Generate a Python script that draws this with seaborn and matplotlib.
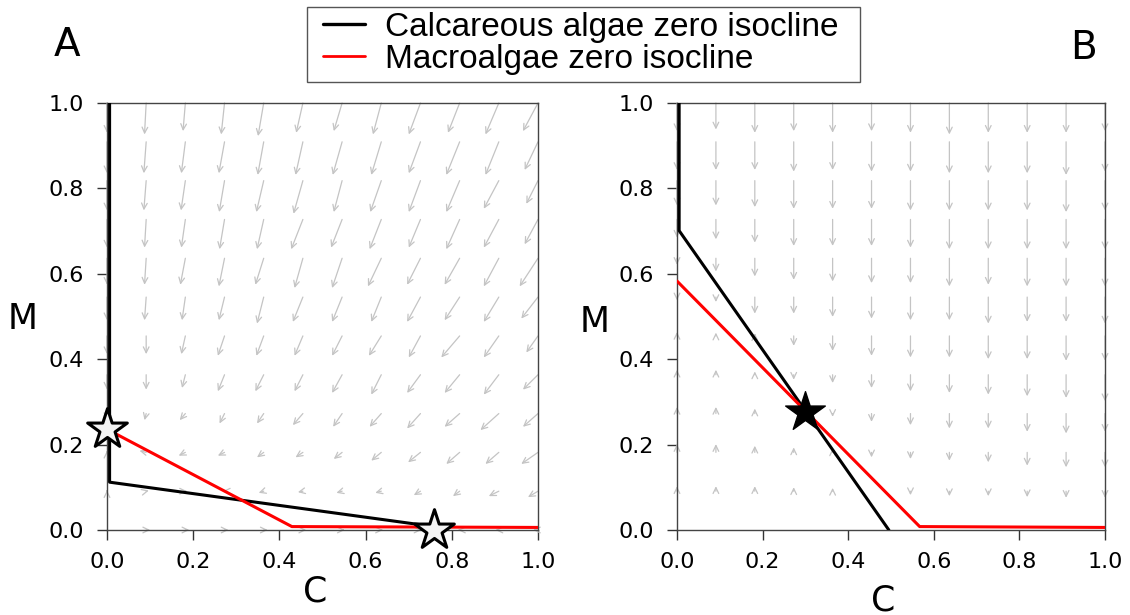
import numpy as np
import pandas as pd
import matplotlib
matplotlib.use("Agg")
import matplotlib.pyplot as plt
import seaborn as sns
from matplotlib.lines import Line2D
from matplotlib.patches import Rectangle

# ---------------- data ----------------
# grid of the direction field (C on x, M on y)
GRID_C = [0.0, 0.0909, 0.1818, 0.2727, 0.3636, 0.4545, 0.5455, 0.6364, 0.7273, 0.8182, 0.9091, 1.0]
GRID_M = [1.0, 0.9091, 0.8182, 0.7273, 0.6364, 0.5455, 0.4545, 0.3636, 0.2727, 0.1818, 0.0909, 0.0]  # rows, top to bottom
ARROW_UNIT = 1290.0  # arrow components below are read in 1/1290 of an axis unit

# Panel A arrows (dC, dM), rows from M=1 to M=0
A_U = [
    [0, -5, -7, -10, -17, -20, -25, -25, -35, -35, -40, -45],
    [0, -7, -12, -17, -18, -22, -28, -30, -35, -40, -40, -40],
    [0, -7, -13, -16, -22, -28, -25, -33, -35, -40, -45, -35],
    [0, -5, -12, -15, -20, -35, -33, -35, -35, -40, -45, -40],
    [0, -5, -15, -17, -25, -25, -30, -40, -40, -45, -45, -55],
    [0, -5, -10, -17, -20, -30, -30, -30, -40, -45, -45, -50],
    [0, 0, -12, -20, -22, -25, -30, -37, -35, -55, -45, -35],
    [0, 0, -10, -20, -25, -25, -30, -30, -40, -45, -45, -45],
    [0, -5, -17, -15, -20, -30, -27, -35, -40, -45, -55, -45],
    [0, -20, -20, -20, -20, -22, -25, -30, -37, -40, -40, -50],
    [0, 8, 5, -5, -15, -15, -17, -18, -20, -20, -30, -30],
    [0, 12, 12, 12, 12, 10, 8, 5, 3, -5, -10, -15],
]
A_V = [
    [-90, -95, -85, -95, -100, -90, -85, -95, -95, -90, -95, -85],
    [-95, -95, -95, -95, -100, -100, -100, -100, -95, -100, -100, -85],
    [-90, -90, -90, -95, -95, -100, -95, -95, -95, -95, -85, -70],
    [-85, -85, -85, -90, -90, -90, -85, -90, -85, -90, -85, -75],
    [-80, -80, -80, -85, -80, -90, -90, -85, -80, -80, -85, -85],
    [-70, -70, -70, -70, -80, -75, -75, -75, -75, -70, -75, -65],
    [-55, -55, -55, -60, -60, -60, -60, -60, -65, -65, -65, -50],
    [-45, -45, -40, -50, -50, -50, -55, -60, -55, -55, -60, -45],
    [-20, -20, -20, -30, -30, -35, -40, -40, -45, -40, -50, -40],
    [5, 5, -10, -10, -15, -15, -20, -25, -30, -35, -35, -35],
    [3, 2, 0, 0, -5, -3, -5, -5, -12, -15, -15, -18],
    [0, 0, 0, 0, 0, 0, 0, 0, 0, 0, 0, 0],
]
# Panel B arrows (dC, dM)
B_U = [
    [0, 0, 0, 0, 0, 0, 0, 0, 0, 0, 0, 0],
    [0, 0, 0, 0, 0, 0, 0, 0, 0, 0, 0, 0],
    [0, 0, 0, 0, 0, 0, 0, 0, 0, 0, 0, 0],
    [0, 0, 0, 0, 0, 0, 0, 0, 0, 0, 0, 0],
    [0, 0, 0, 0, 0, 0, 0, 0, 0, 0, 0, 0],
    [0, 0, 0, 0, 0, 0, 0, 0, 0, 0, 0, 0],
    [0, 0, 0, 0, 0, 0, 0, 0, 0, 0, 0, 0],
    [0, 0, 0, 0, 0, 0, 0, 0, 0, 0, 0, 0],
    [0, 0, 0, 0, 0, 0, 0, 0, 0, 0, 0, 0],
    [0, 0, 0, 0, 0, 0, 0, 0, 0, 0, 0, 0],
    [0, 0, 0, 0, 0, 0, 0, 0, 0, 0, 0, 0],
    [0, 0, 0, 0, 0, 0, 0, 0, 0, 0, 0, 0],
]
B_V = [
    [-85, -80, -90, -85, -90, -85, -90, -95, -90, -90, -90, -85],
    [-85, -85, -85, -90, -85, -90, -90, -95, -95, -95, -100, -90],
    [-75, -75, -80, -85, -85, -85, -90, -90, -90, -90, -95, -90],
    [-55, -60, -70, -80, -80, -80, -85, -90, -90, -90, -90, -90],
    [-20, -40, -55, -65, -70, -75, -75, -85, -80, -85, -85, -85],
    [-10, -15, -50, -50, -60, -65, -70, -70, -80, -75, -75, -80],
    [12, 10, 8, -30, -45, -60, -65, -65, -70, -70, -75, -75],
    [15, 15, 10, -15, -25, -40, -50, -55, -60, -65, -70, -80],
    [20, 20, 15, 0, -10, -25, -35, -45, -45, -55, -60, -55],
    [25, 25, 20, 15, 12, -15, -20, -25, -30, -40, -45, -45],
    [15, 15, 15, 12, 10, 0, -12, -15, -15, -18, -20, -20],
    [0, 0, 0, 0, 0, 0, 0, 0, 0, 0, 0, 0],
]

# isoclines (C, M)
A_CALC_C = [0.006, 0.006, 0.759]
A_CALC_M = [1.0, 0.112, 0.008]
A_MACRO_C = [0.0, 0.429, 1.0]
A_MACRO_M = [0.236, 0.008, 0.006]
B_CALC_C = [0.005, 0.005, 0.495]
B_CALC_M = [1.0, 0.701, 0.0]
B_MACRO_C = [0.0, 0.567, 1.0]
B_MACRO_M = [0.583, 0.008, 0.006]

# equilibria
A_EQ_C = [0.0, 0.759]
A_EQ_M = [0.236, 0.0]
B_EQ_C = [0.298]
B_EQ_M = [0.277]

TICKS = [0.0, 0.2, 0.4, 0.6, 0.8, 1.0]
TICK_LABELS = ["0.0", "0.2", "0.4", "0.6", "0.8", "1.0"]
LEGEND_LABELS = ["Calcareous algae zero isocline", "Macroalgae zero isocline"]
PANEL_LABELS = ["A", "B"]

# ---------------- style ----------------
sns.set_theme(style="ticks")
plt.rcParams["font.family"] = ["DejaVu Sans"]
plt.rcParams["text.color"] = "black"
plt.rcParams["axes.labelcolor"] = "black"
plt.rcParams["xtick.labelcolor"] = "black"
plt.rcParams["ytick.labelcolor"] = "black"

W, H = 1130, 615
fig = plt.figure(figsize=(W / 100, H / 100), dpi=100)
axA = fig.add_axes([107 / W, 1 - 530 / H, 431 / W, 427 / H])
axB = fig.add_axes([677 / W, 1 - 530 / H, 428 / W, 427 / H])

ARROW_COLOR = "#c4c4c4"


def draw_field(ax, U, V):
    for i, m in enumerate(GRID_M):
        for j, c in enumerate(GRID_C):
            u = U[i][j] / ARROW_UNIT
            v = V[i][j] / ARROW_UNIT
            if u == 0 and v == 0:
                continue
            ax.annotate("", xy=(c + u, m + v), xytext=(c, m),
                        xycoords="data", textcoords="data",
                        arrowprops=dict(arrowstyle="->,head_length=0.35,head_width=0.17",
                                        color=ARROW_COLOR, lw=0.9,
                                        shrinkA=0, shrinkB=0),
                        annotation_clip=False, zorder=1)


def style_axes(ax, ylab_xy, xlab_xy):
    ax.set_xlim(0, 1)
    ax.set_ylim(0, 1)
    ax.set_xticks(TICKS)
    ax.set_yticks(TICKS)
    ax.set_xticklabels(TICK_LABELS)
    ax.set_yticklabels(TICK_LABELS)
    ax.tick_params(axis="both", direction="out", length=7.5, width=1.0,
                   colors="#333333", labelcolor="black", labelsize=16)
    ax.tick_params(axis="x", pad=8)
    ax.tick_params(axis="y", pad=9)
    for s in ax.spines.values():
        s.set_visible(True)
        s.set_color("#444444")
        s.set_linewidth(1.0)
    ax.set_facecolor("white")
    ax.set_xlabel("C", fontsize=25, va="center", ha="center", color="black")
    ax.set_ylabel("M", fontsize=25, rotation=0, ha="center", va="center", color="black")
    ax.yaxis.set_label_coords(*ylab_xy)
    ax.xaxis.set_label_coords(*xlab_xy)
    ax.grid(False)


# Panel A
draw_field(axA, A_U, A_V)
dA1 = pd.DataFrame({"C": A_CALC_C, "M": A_CALC_M})
dA2 = pd.DataFrame({"C": A_MACRO_C, "M": A_MACRO_M})
sns.lineplot(data=dA1, x="C", y="M", sort=False, estimator=None, color="black", lw=2.2, ax=axA, zorder=3)
sns.lineplot(data=dA2, x="C", y="M", sort=False, estimator=None, color="#ff0000", lw=2.2, ax=axA, zorder=4)
sns.scatterplot(x=A_EQ_C, y=A_EQ_M, marker="*", s=900, color="#f4f4f4", edgecolor="black",
                linewidth=2.2, ax=axA, zorder=5, clip_on=False)
style_axes(axA, (-0.195, 0.495), (0.483, -0.145))

# Panel B
draw_field(axB, B_U, B_V)
dB1 = pd.DataFrame({"C": B_CALC_C, "M": B_CALC_M})
dB2 = pd.DataFrame({"C": B_MACRO_C, "M": B_MACRO_M})
sns.lineplot(data=dB1, x="C", y="M", sort=False, estimator=None, color="black", lw=2.2, ax=axB, zorder=3)
sns.lineplot(data=dB2, x="C", y="M", sort=False, estimator=None, color="#ff0000", lw=2.2, ax=axB, zorder=4)
sns.scatterplot(x=B_EQ_C, y=B_EQ_M, marker="*", s=900, color="black", edgecolor="black",
                linewidth=1.0, ax=axB, zorder=5, clip_on=False)
style_axes(axB, (-0.192, 0.487), (0.481, -0.164))

# panel letters
fig.text(67 / W, 1 - 45 / H, PANEL_LABELS[0], fontsize=28, ha="center", va="center", color="black")
fig.text(1083 / W, 1 - 48 / H, PANEL_LABELS[1], fontsize=28, ha="center", va="center", color="black")

# legend (frame drawn separately so horizontal/vertical padding can differ)
fig.patches.append(Rectangle((307 / W, 1 - 82 / H), 553 / W, 75 / H, transform=fig.transFigure,
                             facecolor="white", edgecolor="#555555", lw=1.0, zorder=0))
handles = [Line2D([0], [0], color="black", lw=2.4), Line2D([0], [0], color="#ff0000", lw=2.0)]
leg = fig.legend(handles, LEGEND_LABELS, loc="upper left", bbox_to_anchor=(323 / W, 1 - 12 / H),
                 frameon=False, prop={"family": "Liberation Sans", "size": 24}, handlelength=1.27,
                 labelspacing=0.02, borderpad=0.0, handletextpad=0.6, borderaxespad=0,
                 labelcolor="black")

fig.savefig("out.png", dpi=100, facecolor="white")
